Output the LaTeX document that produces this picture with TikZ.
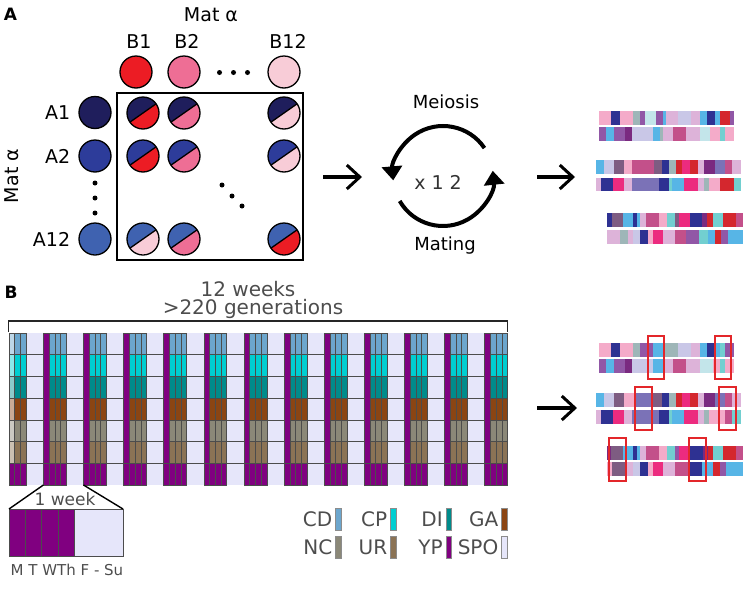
\documentclass[tikz,border=0pt]{standalone}
\usepackage{fontspec}
\setmainfont{DejaVu Sans}
\usetikzlibrary{positioning, arrows.meta}

\newcommand{\fs}[1]{\fontsize{#1}{#1}\selectfont}

% mating types
\definecolor{matA1}{HTML}{1F1E5C}
\definecolor{matA2}{HTML}{2D3C9A}
\definecolor{matA12}{HTML}{3F62B0}
\definecolor{matB1}{HTML}{EC1C24}
\definecolor{matB2}{HTML}{EE6E95}
\definecolor{matB12}{HTML}{F8CCD7}
% chromosome pieces
\definecolor{chPk}{HTML}{F4ABC9}
\definecolor{chNv}{HTML}{2E3192}
\definecolor{chGy}{HTML}{9EB6B8}
\definecolor{chPu}{HTML}{9157A6}
\definecolor{chLc}{HTML}{C3E5EA}
\definecolor{chLv}{HTML}{C9C7E7}
\definecolor{chLi}{HTML}{DDB3D9}
\definecolor{chSb}{HTML}{57B5E6}
\definecolor{chRd}{HTML}{D4272E}
\definecolor{chMg}{HTML}{EC2B7F}
\definecolor{chRo}{HTML}{C3508A}
\definecolor{chMv}{HTML}{7E5C82}
\definecolor{chVi}{HTML}{7B72B7}
\definecolor{chDp}{HTML}{7A2A80}
\definecolor{chTq}{HTML}{72CFD0}
% conditions
\definecolor{CD}{HTML}{6CA6CD}
\definecolor{CP}{HTML}{00CED1}
\definecolor{DI}{HTML}{008B8B}
\definecolor{GA}{HTML}{8B4513}
\definecolor{NC}{HTML}{8B8878}
\definecolor{UR}{HTML}{8B7355}
\definecolor{YP}{HTML}{800080}
\definecolor{SPO}{HTML}{E6E6FA}
\definecolor{txtgray}{HTML}{4D4D4D}
\definecolor{hlred}{HTML}{E3262A}

% one chromosome: x, y, widths (1/3 px) / colours
\newcommand{\chrom}[3]{%
  \xdef\chx{#1}%
  \foreach \w/\cc in {#3}{%
    \fill[\cc] (\chx,#2) rectangle ++(\w/3+0.3,13.5);
    \pgfmathsetmacro\chn{\chx+\w/3}\xdef\chx{\chn}%
  }}

\tikzset{
  lab/.style={font=\fs{19}, inner sep=0pt},
  matcirc/.style={circle, draw, line width=1.3pt, minimum size=32pt, inner sep=0pt},
  halves/.style 2 args={matcirc, fill=#2, path picture={
      \fill[#1] (path picture bounding box.center) ++(-35:20) -- ++(145:40)
        -- ++(-125:25) -- ++(-35:40) -- cycle;
      \draw[line width=1.3pt] (path picture bounding box.center) ++(-35:20) -- ++(145:40);}},
  smalldot/.style={circle, fill, inner sep=0pt, minimum size=5pt},
  bigarrow/.style={line width=3.5pt, -{Straight Barb[length=13pt,width=24pt,line width=3pt]}},
  cycarrow/.style={line width=4pt, -{Triangle[length=14pt,width=20pt]}},
  cell/.style={draw=black!70, line width=0.5pt},
  hl/.style={draw=hlred, line width=1.4pt},
  legswatch/.style={draw=black!45, line width=0.6pt, minimum width=5.5pt, minimum height=22pt, inner sep=0pt},
  legtext/.style={font=\fs{20}, text=txtgray, inner sep=0pt},
  graytext/.style={text=txtgray, inner sep=0pt}
}

\begin{document}
\begin{tikzpicture}[x=1pt, y=-1pt]
  \useasboundingbox (0,0) rectangle (750,600);

  % ---- panel A ----
  \node[font=\fs{17}\bfseries, inner sep=0pt] (labA) at (10.5,14.5) {A};
  \node[lab] (matTop) at (211,15) {Mat α};
  \node[lab, rotate=90] (matLeft) at (11.5,176) {Mat α};

  \node[matcirc, fill=matB1] (b1) at (136,72) {};
  \node[matcirc, fill=matB2] (b2) at (184,72) {};
  \node[matcirc, fill=matB12] (b12) at (284,72) {};
  \node[lab, above=7pt of b1, xshift=3pt] (labB1) {B1};
  \node[lab, above=7pt of b2, xshift=3pt] (labB2) {B2};
  \node[lab, above=7pt of b12, xshift=4pt] (labB12) {B12};

  \node[matcirc, fill=matA1] (a1) at (95,112.5) {};
  \node[matcirc, fill=matA2] (a2) at (95,156) {};
  \node[matcirc, fill=matA12] (a12) at (95,239) {};
  \node[lab, left=8pt of a1] (labA1) {A1};
  \node[lab, left=8pt of a2] (labA2) {A2};
  \node[lab, left=8pt of a12] (labA12) {A12};

  \node[draw, line width=1.8pt, minimum width=186.6pt, minimum height=167.3pt, inner sep=0pt] (box) at (210,176.3) {};

  % crosses: row / column / colour of the B half
  \foreach \a/\ya in {1/113, 2/156}
    \foreach \b/\xb in {1/143, 2/184, 12/284}
      \node[halves={matA\a}{matB\b}] (a\a-b\b) at (\xb,\ya) {};
  \foreach \b/\xb/\bc in {1/143/12, 2/184/2, 12/284/1}
    \node[halves={matA12}{matB\bc}] (a12-b\b) at (\xb,239) {};

  \foreach \x [count=\i] in {219.5,233.5,247.5}
    \node[smalldot] (hdot\i) at (\x,72.5) {};
  \foreach \y [count=\i] in {183,198,213}
    \node[smalldot] (vdot\i) at (95,\y) {};
  \foreach \x/\y [count=\i] in {222/185, 232/196, 242/206}
    \node[smalldot] (ddot\i) at (\x,\y) {};

  \coordinate (ar1s) at (323,177);
  \coordinate (ar1e) at (362,177);
  \draw[bigarrow] (ar1s) -- (ar1e);

  % meiosis / mating cycle
  \coordinate (cyc) at (443,176);
  \node[font=\fs{18}, inner sep=0pt] (meiosis) at (446,102) {Meiosis};
  \node[font=\fs{18}, inner sep=0pt] (mating) at (445,246) {Mating};
  \node[font=\fs{19}, text=black!80, inner sep=0pt] (times) at (438,182) {x 1 2};
  \draw[cycarrow] ([shift={(-34:50)}]cyc) arc[start angle=-34, end angle=-185, radius=50];
  \draw[cycarrow] ([shift={(150:50)}]cyc) arc[start angle=150, end angle=-6, radius=50];

  \coordinate (ar2s) at (537,177);
  \coordinate (ar2e) at (575,177);
  \draw[bigarrow] (ar2s) -- (ar2e);

  % chromosomes after crossing
  \chrom{599}{111}{37/chPk,25/chNv,40/chPk,20/chGy,15/chPu,33/chLc,22/chPu,10/chSb,35/chLi,40/chLv,27/chLi,20/chSb,23/chNv,15/chSb,32/chRd,11/chPu}
  \chrom{599}{127}{22/chPu,23/chSb,32/chPu,23/chDp,62/chLv,20/chSb,10/chGy,30/chLi,40/chRo,40/chLi,30/chLc,30/chPk,15/chTq,27/chPk}
  \chrom{596}{160}{25/chSb,28/chLv,30/chMv,25/chPk,67/chRo,23/chMv,20/chNv,23/chGy,17/chRd,25/chMg,22/chRd,20/chLi,33/chDp,30/chVi,20/chRo,26/chLi}
  \chrom{596}{177.5}{16/chLi,34/chNv,33/chMg,25/chLi,82/chVi,28/chNv,10/chTq,37/chSb,40/chMg,20/chLi,13/chGy,35/chPk,40/chRd,21/chTq}
  \chrom{607}{213}{15/chNv,33/chMv,30/chSb,12/chNv,10/chSb,16/chLi,39/chRo,25/chPk,23/chTq,13/chMv,32/chMg,38/chNv,14/chDp,18/chRd,30/chTq,38/chRd,20/chRo}
  \chrom{607}{230}{40/chLi,23/chGy,15/chLi,22/chLv,23/chNv,15/chPk,30/chMg,35/chLi,35/chRo,38/chPu,27/chTq,20/chSb,20/chRd,20/chPu,43/chSb}

  % ---- panel B ----
  \node[font=\fs{17}\bfseries, inner sep=0pt] (labB) at (11,292) {B};
  \node[graytext, font=\fs{20}] (weeks) at (248,289) {12 weeks};
  \node[graytext, font=\fs{20}] (gens) at (253,309) {>220 generations};
  \coordinate (brL) at (8.5,332);
  \coordinate (brR) at (507.5,332);
  \draw[line width=1.6pt, black!85] (brL) -- ++(0,-11) -| (brR);

  % schedule grid, 87 days x 7 conditions
  \def\dw{5.73}
  \def\rh{21.714}
  \fill[SPO] (9,333) rectangle (507.5,485);
  \foreach \k in {1,...,6}
    \draw[cell] (9,{333+\k*\rh}) -- (507.5,{333+\k*\rh});
  % first week starts on a Tuesday
  \foreach \cc [count=\row from 0] in {CD,CP,DI,GA,NC,UR}{
    \filldraw[cell, fill=\cc!45!white] (9,{333+\row*\rh}) rectangle ++(\dw,\rh);
    \foreach \k in {1,2}
      \filldraw[cell, fill=\cc] ({9+\k*\dw},{333+\row*\rh}) rectangle ++(\dw,\rh);
  }
  \foreach \k in {0,1,2}
    \filldraw[cell, fill=YP] ({9+\k*\dw},{333+6*\rh}) rectangle ++(\dw,\rh);
  % weeks from Monday on
  \foreach \w in {0,...,11}{
    \pgfmathsetmacro\xm{9+(6+7*\w)*\dw}
    \foreach \cc [count=\row from 0] in {CD,CP,DI,GA,NC,UR}
      \foreach \k in {1,2,3}
        \filldraw[cell, fill=\cc] ({\xm+\k*\dw},{333+\row*\rh}) rectangle ++(\dw,\rh);
    \foreach \k in {0,...,3}
      \filldraw[cell, fill=YP] ({\xm+\k*\dw},{333+6*\rh}) rectangle ++(\dw,\rh);
    \filldraw[cell, fill=YP] (\xm,333) rectangle ++(\dw,{6*\rh});
  }

  % one week enlarged
  \foreach \k in {0,...,3}
    \filldraw[cell, fill=YP] ({9+\k*16.25},509) rectangle ++(16.25,47);
  \filldraw[cell, fill=SPO] (74,509) rectangle (123,556);
  \coordinate (inL) at (9,509);
  \coordinate (inR) at (123,509);
  \coordinate (wkL) at (43.4,485);
  \coordinate (wkR) at (83.5,485);
  \draw[line width=1.4pt] (inL) -- (wkL) (inR) -- (wkR);
  \node[graytext, font=\fs{17}] (oneweek) at (65,499) {1 week};
  \node[graytext, font=\fs{15}, anchor=west] (days) at (10.5,570) {M T WTh F - Su};

  % legend
  \foreach \lab/\x/\y in {CD/338.5/519, CP/393.5/519, DI/449/519, GA/504.5/519,
                          NC/338.5/547, UR/393.5/547, YP/449/547, SPO/504.5/547}{
    \node[legswatch, fill=\lab] (sw\lab) at (\x,\y) {};
    \node[legtext, left=3pt of sw\lab] (lt\lab) {\lab};
  }

  \coordinate (ar3s) at (537,408);
  \coordinate (ar3e) at (577,408);
  \draw[bigarrow] (ar3s) -- (ar3e);

  % chromosomes after 12 weeks
  \chrom{599}{343}{37/chPk,25/chNv,40/chPk,20/chGy,40/chPu,30/chSb,45/chGy,40/chLv,27/chLi,20/chSb,23/chNv,15/chSb,15/chTq,28/chPu}
  \chrom{599}{359}{22/chPu,23/chSb,32/chPu,23/chDp,62/chLv,30/chSb,30/chLi,40/chRo,40/chLi,40/chLc,20/chPk,15/chTq,27/chPk}
  \chrom{596}{393}{25/chSb,28/chLv,30/chMv,35/chPk,50/chVi,30/chMv,20/chNv,23/chGy,17/chRd,25/chMg,22/chRd,20/chLi,33/chDp,30/chVi,20/chRo,26/chLi}
  \chrom{596}{410}{16/chLi,34/chNv,33/chMg,25/chLi,82/chVi,28/chNv,10/chTq,37/chSb,40/chMg,20/chLi,13/chGy,50/chPk,20/chRo,26/chTq}
  \chrom{607}{446}{13/chDp,35/chMv,30/chSb,12/chNv,10/chSb,16/chLi,39/chRo,25/chPk,23/chTq,13/chPu,32/chMg,40/chNv,15/chDp,15/chRd,30/chTq,38/chRd,20/chRo}
  \chrom{607}{462}{16/chPk,37/chMv,25/chLi,22/chLv,23/chNv,15/chPk,30/chMg,35/chLi,45/chRo,38/chNv,32/chSb,20/chRd,20/chPu,48/chSb}

  \draw[hl] (648,336) rectangle (664,379);
  \draw[hl] (715,336) rectangle (731,379);
  \draw[hl] (635,387) rectangle (652,430);
  \draw[hl] (719,387) rectangle (736,430);
  \draw[hl] (609,438) rectangle (626,481);
  \draw[hl] (689,438) rectangle (706,481);
\end{tikzpicture}
\end{document}
